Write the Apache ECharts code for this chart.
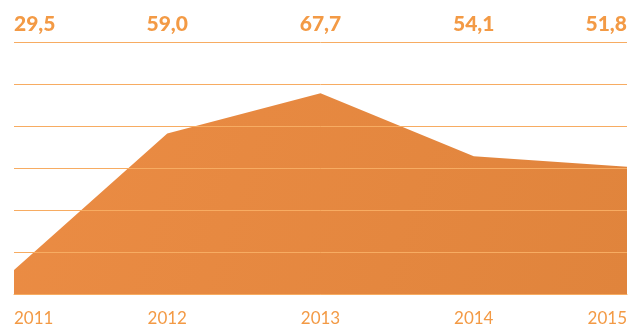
<!DOCTYPE html>
<html>
<head>
<meta charset="utf-8">
<script src="https://cdn.jsdelivr.net/npm/echarts@6/dist/echarts.min.js"></script>
<style>
  html, body { margin: 0; padding: 0; background: #ffffff; }
  #chart { width: 640px; height: 331px; }
</style>
</head>
<body>
<div id="chart"></div>
<script>
// Years along the bottom axis
const years = ['2011', '2012', '2013', '2014', '2015'];
// Yearly values, shown above the plot with a decimal comma
const values = [29.5, 59.0, 67.7, 54.1, 51.8];
// Value range of the plot area and number of horizontal bands
const valueMin = 24.3;
const valueMax = 78.8;
const bandCount = 6;

const fmt = v => v.toFixed(1).replace('.', ',');
const valueLabels = values.map(fmt);

const orange = '#F39A45';
const lineColor = '#F7AC62';

const chart = echarts.init(document.getElementById('chart'), null, { renderer: 'canvas' });

chart.setOption({
  animation: false,
  backgroundColor: '#ffffff',
  grid: { left: 14, right: 13, top: 42, bottom: 37, containLabel: false },
  xAxis: [
    {
      type: 'category',
      data: years,
      boundaryGap: false,
      position: 'bottom',
      axisLine: { show: true, lineStyle: { color: lineColor, width: 1 } },
      axisTick: { show: false },
      splitLine: { show: false },
      axisLabel: {
        color: orange,
        fontFamily: 'Lato',
        fontWeight: 'normal',
        fontSize: 17,
        margin: 16,
        alignMinLabel: 'left',
        alignMaxLabel: 'right'
      }
    },
    {
      type: 'category',
      data: valueLabels,
      boundaryGap: false,
      position: 'top',
      axisLine: { show: false },
      axisTick: { show: false },
      axisLabel: {
        color: orange,
        fontFamily: 'Lato',
        fontWeight: 900,
        fontSize: 21,
        margin: 7,
        alignMinLabel: 'left',
        alignMaxLabel: 'right'
      }
    }
  ],
  yAxis: [
    {
      // data scale
      type: 'value',
      min: valueMin,
      max: valueMax,
      show: false,
      splitLine: { show: false }
    },
    {
      // evenly spaced guide lines drawn above the filled area
      type: 'value',
      min: 0,
      max: bandCount,
      interval: 1,
      z: 5,
      axisLine: { show: false },
      axisTick: { show: false },
      axisLabel: { show: false },
      splitLine: { show: true, lineStyle: { color: lineColor, width: 1 } }
    }
  ],
  series: [
    {
      type: 'line',
      data: values,
      xAxisIndex: 0,
      yAxisIndex: 0,
      symbol: 'none',
      lineStyle: { width: 0 },
      areaStyle: {
        opacity: 1,
        color: new echarts.graphic.LinearGradient(0, 0, 1, 1, [
          { offset: 0, color: '#EB8C44' },
          { offset: 1, color: '#E0843C' }
        ])
      },
      z: 2
    }
  ]
});
</script>
</body>
</html>
